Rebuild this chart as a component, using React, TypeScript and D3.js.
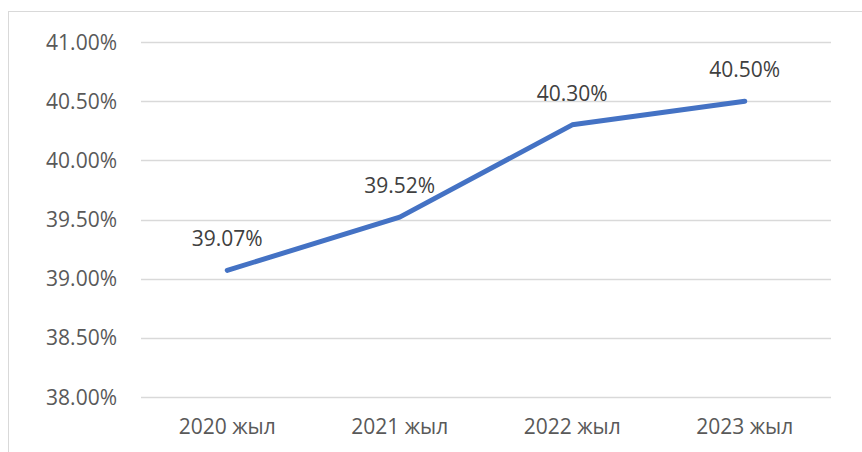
import { useEffect, useRef } from 'react';
import * as d3 from 'd3';

const categories = ['2020 жыл', '2021 жыл', '2022 жыл', '2023 жыл'];
const values = [39.07, 39.52, 40.3, 40.5];
const yTicks = [38, 38.5, 39, 39.5, 40, 40.5, 41];

export default function App() {
  const svgRef = useRef<SVGSVGElement>(null);
  const width = 862;
  const height = 452;

  useEffect(() => {
    if (!svgRef.current) return;
    const svg = d3.select(svgRef.current);
    svg.selectAll('*').remove();

    const font = '"Open Sans", "Liberation Sans", sans-serif';
    const left = 141, right = 831, top = 42, bottom = 397;

    // chart frame
    svg.append('rect')
      .attr('x', 8.5).attr('y', 11.5)
      .attr('width', 900).attr('height', 500)
      .attr('fill', '#fff')
      .attr('stroke', '#d9d9d9')
      .attr('stroke-width', 1);

    const x = d3.scaleBand<string>().domain(categories).range([left, right]);
    const y = d3.scaleLinear().domain([38, 41]).range([bottom, top]);

    // gridlines
    svg.append('g')
      .selectAll('line')
      .data(yTicks)
      .enter().append('line')
      .attr('x1', left).attr('x2', right)
      .attr('y1', d => Math.round(y(d)) + 0.5)
      .attr('y2', d => Math.round(y(d)) + 0.5)
      .attr('stroke', '#d9d9d9')
      .attr('stroke-width', 1.3);

    // y labels
    svg.append('g')
      .selectAll('text')
      .data(yTicks)
      .enter().append('text')
      .attr('x', 117)
      .attr('y', d => y(d) + 7.5)
      .attr('text-anchor', 'end')
      .attr('fill', '#595959')
      .style('font-family', font)
      .style('font-size', '21px')
      .text(d => d.toFixed(2) + '%');

    // x labels
    svg.append('g')
      .selectAll('text')
      .data(categories)
      .enter().append('text')
      .attr('x', d => x(d)! + x.bandwidth() / 2)
      .attr('y', 434)
      .attr('text-anchor', 'middle')
      .attr('fill', '#595959')
      .style('font-family', font)
      .style('font-size', '21px')
      .text(d => d);

    const pts = categories.map((c, i) => [x(c)! + x.bandwidth() / 2, y(values[i])] as [number, number]);

    svg.append('path')
      .attr('d', d3.line()(pts))
      .attr('fill', 'none')
      .attr('stroke', '#4472c4')
      .attr('stroke-width', 5)
      .attr('stroke-linecap', 'round')
      .attr('stroke-linejoin', 'round');

    // data labels
    svg.append('g')
      .selectAll('text')
      .data(values)
      .enter().append('text')
      .attr('x', (d, i) => pts[i][0])
      .attr('y', (d, i) => pts[i][1] - 24)
      .attr('text-anchor', 'middle')
      .attr('fill', '#404040')
      .style('font-family', font)
      .style('font-size', '21px')
      .text(d => d.toFixed(2) + '%');
  }, []);

  return (
    <svg ref={svgRef} width={width} height={height}
      style={{ position: 'absolute', left: 0, top: 0, display: 'block' }} />
  );
}
